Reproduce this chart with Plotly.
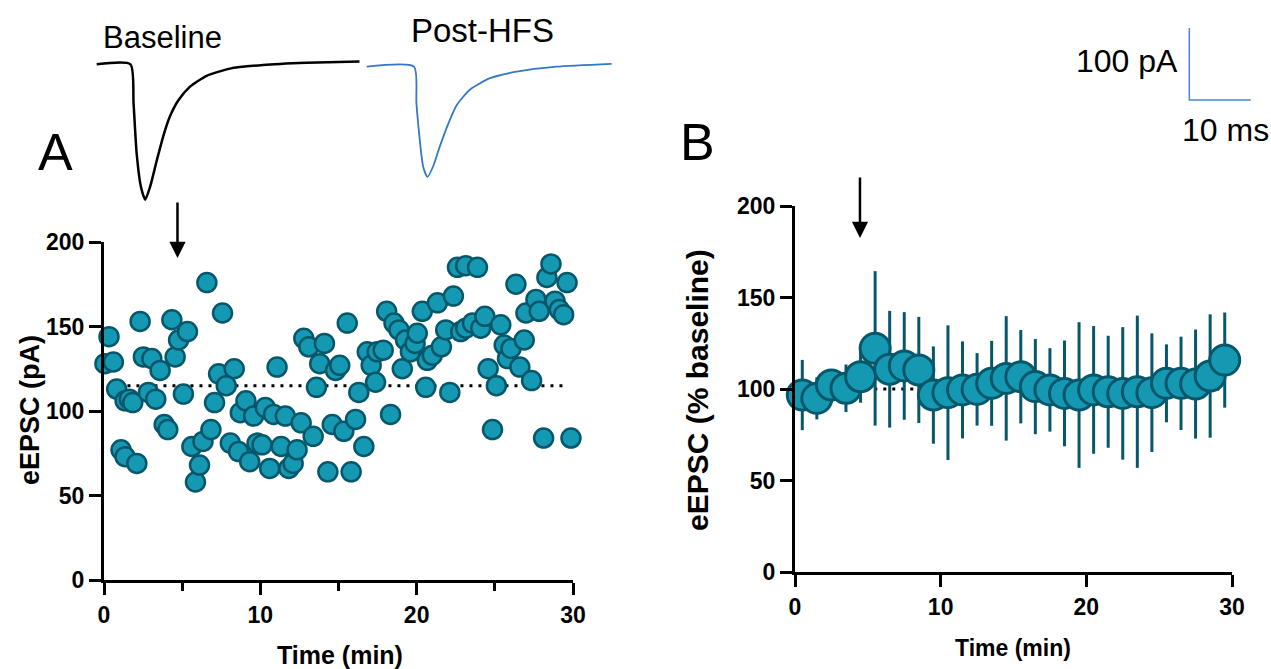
import plotly.graph_objects as go

# ---- panel A: single-cell eEPSC amplitudes (min, pA)
time_a = [0.06, 0.32, 0.6, 0.81, 1.09, 1.35, 1.35, 1.62, 1.84, 2.1, 2.31, 2.52, 2.84, 3.06, 3.31,
          3.59, 3.85, 4.08, 4.34, 4.55, 4.77, 5.08, 5.34, 5.62, 5.85, 6.11, 6.33, 6.58, 6.84, 7.07,
          7.33, 7.58, 7.82, 8.08, 8.33, 8.61, 8.72, 9.08, 9.32, 9.57, 9.79,
          10.11, 10.32, 10.6, 10.85, 11.07, 11.33, 11.6, 11.82, 12.1, 12.35, 12.61, 12.78, 13.1,
          13.38, 13.59, 13.8, 14.1, 14.32, 14.6, 14.81, 15.08, 15.34, 15.56, 15.81, 16.09, 16.3,
          16.62, 16.84, 17.09, 17.37, 17.48, 17.86, 18.08, 18.33, 18.55, 18.87, 19.08, 19.29,
          19.6, 19.9, 20.04, 20.36, 20.58, 20.68, 21.0, 21.33, 21.58, 21.86, 22.12, 22.35, 22.61,
          22.82, 23.14, 23.14, 23.57, 23.89, 24.1, 24.36, 24.57, 24.85, 25.1, 25.38, 25.6, 25.81,
          26.03, 26.35, 26.6, 26.88, 26.99, 27.35, 27.63, 27.84, 28.12, 28.33, 28.59, 28.85,
          29.12, 29.4, 29.62, 29.87]
epsc_a = [128, 144, 129, 113, 77, 106, 73, 107, 105, 69, 153, 132, 111, 131, 107,
          124, 92, 89, 154, 132, 142, 110, 147, 79, 58, 68, 82, 176, 89, 105,
          122, 158, 115, 81, 125, 76, 99, 106, 70, 97, 81,
          80, 102, 66, 98, 126, 79, 97, 66, 69, 77, 93, 143, 138,
          85, 114, 128, 140, 64, 92, 124, 127, 88, 152, 64, 95, 111,
          79, 135, 127, 117, 135, 136, 159, 98, 152, 148, 125, 142,
          135, 140, 146, 159, 114, 130, 133, 164, 138, 148, 111, 168, 185,
          147, 186, 149, 152, 185, 149, 156, 125, 89, 115, 151, 139, 131,
          137, 175, 126, 142, 158, 118, 166, 159, 84, 179, 187, 165,
          160, 157, 176, 84]
baseline_a = 115

# ---- panel B: group mean +/- SEM (% baseline)
time_b = [0.5, 1.5, 2.5, 3.5, 4.5, 5.5, 6.5, 7.5, 8.5, 9.5, 10.5, 11.5, 12.5, 13.5, 14.5,
          15.5, 16.5, 17.5, 18.5, 19.5, 20.5, 21.5, 22.5, 23.5, 24.5, 25.5, 26.5, 27.5, 28.5, 29.5]
mean_b = [96.7, 94.9, 102.2, 100.4, 106.7, 122.2, 110.8, 112.6, 110.4, 96.7, 98.0, 99.5, 99.8,
          103.1, 105.8, 106.7, 101.3, 99.5, 97.6, 96.7, 99.5, 98.5, 97.6, 98.5, 98.0, 103.1,
          103.1, 102.7, 107.1, 115.8]
sem_b = [19.2, 11.5, 8.0, 13.0, 14.2, 42.2, 31.9, 29.4, 29.0, 26.6, 36.8, 26.5, 19.8, 23.2, 34.0,
         25.5, 26.0, 22.8, 28.9, 39.8, 34.9, 30.6, 36.2, 41.6, 32.4, 21.3, 25.5, 29.8, 33.7, 26.0]

# ---- example traces (ms, pA)
base_t = [0, 5.5, 6.0, 6.5, 7.2, 7.9, 8.7, 9.8, 10.8, 11.9, 13.3, 15.2, 17.9, 21.7, 27.1, 34.2, 42.8]
base_i = [0, 0, -54, -123, -170, -188, -170, -133, -101, -73, -50, -31, -16, -6, -1, 2, 4]
hfs_t = [0, 7.7, 8.1, 8.7, 9.2, 9.9, 10.8, 11.9, 13.3, 14.7, 16.8, 20.1, 24.4, 30.9, 39.9]
hfs_i = [0, 0, -51, -106, -139, -153, -139, -111, -79, -53, -32, -16, -7, 0, 4]
scale_pa = 100
scale_ms = 10

fill = "#1599B3"
edge = "#07576A"
W, H = 1271, 669


def bold(size):
    return dict(family="Liberation Sans, Arial", size=size, color="black", weight="bold")


def px(x, y):
    return x / W, 1 - y / H


fig = go.Figure()

# panel A
fig.add_trace(go.Scatter(x=[1.5, 29.5], y=[baseline_a] * 2, mode="lines",
                         line=dict(color="black", width=3, dash="3px,6px"),
                         xaxis="x", yaxis="y", hoverinfo="skip"))
fig.add_trace(go.Scatter(x=time_a, y=epsc_a, mode="markers", cliponaxis=False,
                         marker=dict(size=19, color=fill, line=dict(color=edge, width=2.5)),
                         xaxis="x", yaxis="y"))

# panel B
fig.add_trace(go.Scatter(x=[0.5, 29.5], y=[100, 100], mode="lines",
                         line=dict(color="black", width=3, dash="3px,6px"),
                         xaxis="x2", yaxis="y2", hoverinfo="skip"))
fig.add_trace(go.Scatter(x=time_b, y=mean_b, mode="markers", cliponaxis=False,
                         error_y=dict(type="data", array=sem_b, color=edge, thickness=3, width=0),
                         marker=dict(size=30, color=fill, line=dict(color=edge, width=3)),
                         xaxis="x2", yaxis="y2"))

# traces on an overlay axis: 6.14 px per ms, 0.72 px per pA
fig.add_trace(go.Scatter(x=[t + 15.75 for t in base_t], y=base_i, mode="lines",
                         line=dict(color="black", width=2.5, shape="spline", smoothing=0.6),
                         xaxis="x3", yaxis="y3", hoverinfo="skip"))
fig.add_trace(go.Scatter(x=[t + 59.72 for t in hfs_t], y=[i - 3.3 for i in hfs_i], mode="lines",
                         line=dict(color="#3478C6", width=1.8, shape="spline", smoothing=0.6),
                         xaxis="x3", yaxis="y3", hoverinfo="skip"))
bx, by = 193.7, -49.6
fig.add_trace(go.Scatter(x=[bx, bx, bx + scale_ms], y=[by + scale_pa, by, by], mode="lines",
                         line=dict(color="#4A84CF", width=1.5),
                         xaxis="x3", yaxis="y3", hoverinfo="skip"))

axis_common = dict(showgrid=False, zeroline=False, showline=True, linecolor="black", linewidth=3,
                   ticks="outside", ticklen=12, tickwidth=3, tickcolor="black", tickfont=bold(23),
                   automargin=False)

fig.update_layout(
    width=W, height=H, margin=dict(l=0, r=0, t=0, b=0, pad=0),
    plot_bgcolor="rgba(0,0,0,0)", paper_bgcolor="white", showlegend=False,
    xaxis=dict(domain=[104 / W, 573 / W], range=[0, 30], tickvals=[0, 10, 20, 30],
               minor=dict(tickvals=[5, 15, 25], ticks="outside", ticklen=8, tickwidth=3,
                          tickcolor="black"),
               anchor="y", **axis_common),
    yaxis=dict(domain=[1 - 580 / H, 1 - 242 / H], range=[0, 200], tickvals=[0, 50, 100, 150, 200],
               anchor="x", **axis_common),
    xaxis2=dict(domain=[795 / W, 1232 / W], range=[0, 30], tickvals=[0, 10, 20, 30],
                anchor="y2", **axis_common),
    yaxis2=dict(domain=[1 - 572 / H, 1 - 206 / H], range=[0, 200], tickvals=[0, 50, 100, 150, 200],
                anchor="x2", **axis_common),
    xaxis3=dict(domain=[0, 1], range=[0, W / 6.14], visible=False, anchor="y3", automargin=False),
    yaxis3=dict(domain=[0, 1], range=[(64.3 - H) / 0.72, 64.3 / 0.72], visible=False, anchor="x3",
                automargin=False),
)

notes = [
    ("Baseline", 162, 38, 31, 0, False),
    ("Post-HFS", 482, 30, 33, 0, False),
    ("100 pA", 1127, 61, 32, 0, False),
    ("10 ms", 1225, 130, 32, 0, False),
    ("A", 55, 152, 52, 0, False),
    ("B", 697, 142, 52, 0, False),
    ("eEPSC (pA)", 30, 410, 27, -90, True),
    ("Time (min)", 340, 655, 25, 0, True),
    ("eEPSC (% baseline)", 697, 390, 30, -90, True),
    ("Time (min)", 1013, 648, 23, 0, True),
]
for text, x, y, size, ang, b in notes:
    xx, yy = px(x, y)
    f = bold(size) if b else dict(family="Liberation Sans, Arial", size=size, color="black")
    fig.add_annotation(x=xx, y=yy, xref="paper", yref="paper", text=text, showarrow=False,
                       textangle=ang, font=f, xanchor="center", yanchor="middle")

# HFS arrows
fig.add_annotation(x=4.7, y=(580 - 258) / 1.69, xref="x", yref="y", ax=0, ay=-57, text="",
                   showarrow=True, arrowhead=2, arrowsize=1.3, arrowwidth=2.5, arrowcolor="black")
fig.add_annotation(x=4.46, y=(572 - 238) / 1.83, xref="x2", yref="y2", ax=0, ay=-62, text="",
                   showarrow=True, arrowhead=2, arrowsize=1.3, arrowwidth=2.5, arrowcolor="black")

# page has a default 8px body margin; drop it so the figure sits at the window corner
fig.write_html("out.html", config={"displayModeBar": False},
               post_script="document.body.style.margin='0';")
